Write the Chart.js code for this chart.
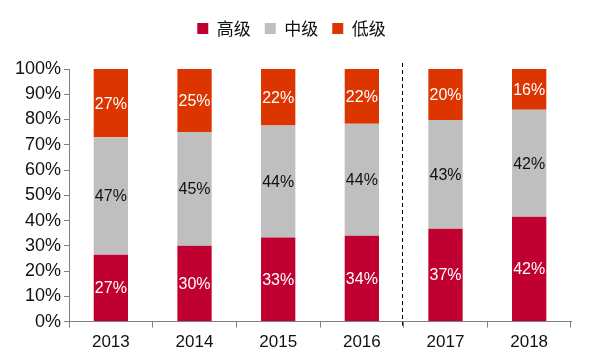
<!DOCTYPE html>
<html><head><meta charset="utf-8">
<script src="https://cdn.jsdelivr.net/npm/chart.js@4"></script>
<style>html,body{margin:0;padding:0;background:#fff}#wrap{width:593px;height:364px}</style>
</head><body><div id="wrap"><canvas id="c" width="593" height="364"></canvas></div>
<script>
const categories = ['2013','2014','2015','2016','2017','2018'];
const highValues = [26.5, 30.0, 33.3, 34.0, 36.8, 41.5];
const midValues  = [46.5, 45.1, 44.3, 44.3, 43.0, 42.4];
const lowValues  = [27.0, 24.9, 22.4, 21.7, 20.2, 16.1];
const yTicks = [0,10,20,30,40,50,60,70,80,90,100];

const legendSpace = {
  id: 'legendSpace',
  beforeInit(chart) {
    const orig = chart.legend.fit;
    chart.legend.fit = function() { orig.bind(chart.legend)(); this.height += 22; };
  }
};

const labelPlugin = {
  id: 'labels',
  afterDatasetsDraw(chart) {
    const ctx = chart.ctx;
    ctx.save();
    ctx.font = '16px "Liberation Sans", Arial, sans-serif';
    ctx.textAlign = 'center';
    ctx.textBaseline = 'middle';
    chart.data.datasets.forEach((ds, i) => {
      const meta = chart.getDatasetMeta(i);
      meta.data.forEach((bar, j) => {
        ctx.fillStyle = ds.labelColor;
        const y = (bar.y + bar.base) / 2;
        ctx.fillText(Math.round(ds.data[j]) + '%', bar.x, y + 1);
      });
    });
    const xs = chart.scales.x, ys = chart.scales.y;
    const xd = (xs.getPixelForValue(3) + xs.getPixelForValue(4)) / 2 - 2;
    ctx.strokeStyle = '#000';
    ctx.lineWidth = 1;
    ctx.setLineDash([4, 3]);
    ctx.beginPath();
    ctx.moveTo(Math.round(xd) + 0.5, ys.top - 6);
    ctx.lineTo(Math.round(xd) + 0.5, ys.bottom + 4);
    ctx.stroke();
    ctx.restore();
  }
};

new Chart(document.getElementById('c'), {
  type: 'bar',
  data: {
    labels: categories,
    datasets: [
      {label: '高级', data: highValues, backgroundColor: '#C00030', labelColor: '#fff'},
      {label: '中级', data: midValues, backgroundColor: '#BFBFBF', labelColor: '#111'},
      {label: '低级', data: lowValues, backgroundColor: '#DD3500', labelColor: '#fff'}
    ]
  },
  options: {
    responsive: false,
    animation: false,
    devicePixelRatio: 1,
    barPercentage: 0.41,
    categoryPercentage: 1.0,
    layout: {padding: {left: 12, right: 22, top: 6, bottom: 6}},
    plugins: {
      legend: {
        display: true,
        position: 'top',
        labels: {
          boxWidth: 11, boxHeight: 11,
          color: '#111',
          font: {size: 17, family: '"Noto Sans CJK SC", sans-serif'},
          padding: 14
        }
      },
      tooltip: {enabled: false}
    },
    scales: {
      x: {
        stacked: true,
        border: {color: '#808080', width: 1},
        grid: {display: true, drawOnChartArea: false, tickLength: 6, color: '#808080', offset: true},
        ticks: {color: '#111', font: {size: 17, family: '"Liberation Sans", Arial, sans-serif'}, padding: 5}
      },
      y: {
        stacked: true,
        min: 0, max: 100,
        afterBuildTicks(axis) { axis.ticks = yTicks.map(v => ({value: v})); },
        border: {color: '#808080', width: 1},
        grid: {display: true, drawOnChartArea: false, tickLength: 5, color: '#808080'},
        ticks: {color: '#111', font: {size: 18, family: '"Liberation Sans", Arial, sans-serif'}, padding: 3,
                callback: v => v + '%'}
      }
    }
  },
  plugins: [legendSpace, labelPlugin]
});
</script></body></html>
